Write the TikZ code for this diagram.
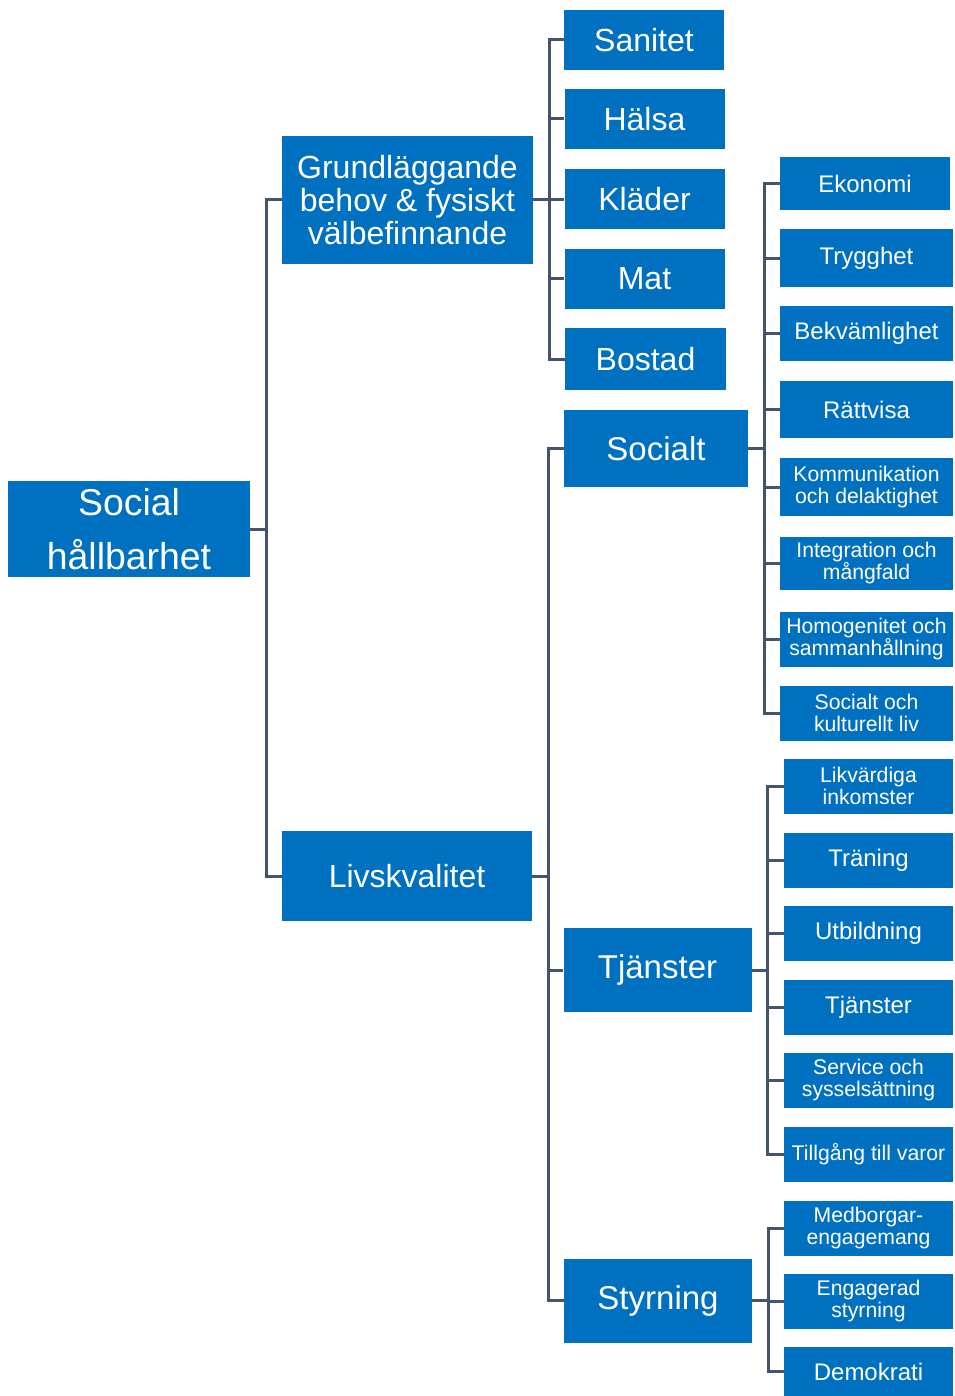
\documentclass[tikz,border=0pt]{standalone}
\usepackage{fontspec}
\setmainfont{Liberation Sans}
\definecolor{boxblue}{HTML}{0070C0}
\definecolor{linegray}{HTML}{44546A}
\begin{document}
\begin{tikzpicture}[x=0.5pt, y=-0.5pt]
\tikzstyle{every node}=[shape=rectangle, fill=boxblue, text=white, inner sep=0pt, align=center]
\tikzstyle{top}=[minimum width=80pt, minimum height=30pt, font=\fontsize{16}{18}\selectfont]
\tikzstyle{mid}=[minimum width=94pt, minimum height=42pt, font=\fontsize{16.5}{18}\selectfont]
\tikzstyle{leaf}=[minimum width=86.5pt, minimum height=27.5pt, font=\fontsize{12}{12}\selectfont]
\tikzstyle{leaftwo}=[minimum width=86.5pt, minimum height=27.5pt, font=\fontsize{10.6}{11}\selectfont]
\tikzstyle{link}=[draw=linegray, line width=1.5pt]
\useasboundingbox (0,0) rectangle (954,1396);
\node[minimum width=121pt, minimum height=48pt, font=\fontsize{18.7}{27}\selectfont] (SH) at (129, 529) {Social\\hållbarhet};
\node[minimum width=125.5pt, minimum height=64pt, font=\fontsize{16}{16.5}\selectfont] (GB) at (407.5, 200) {Grundläggande\\behov \& fysiskt\\välbefinnande};
\node[minimum width=125pt, minimum height=45pt, font=\fontsize{16}{16.5}\selectfont] (LK) at (407, 876) {Livskvalitet};
\node[top] (San) at (644, 40) {Sanitet};
\node[top] (Hal) at (644.5, 119) {Hälsa};
\node[top] (Kla) at (644.5, 199.5) {Kläder};
\node[top] (Mat) at (644.5, 278.5) {Mat};
\node[top, minimum width=80.5pt, minimum height=31pt] (Bos) at (645.5, 359) {Bostad};
\node[mid, minimum width=92pt, minimum height=38.5pt] (Soc) at (656, 448.5) {Socialt};
\node[mid] (Tja) at (657.5, 970) {Tjänster};
\node[mid] (Sty) at (658, 1300.5) {Styrning};
\node[leaf, minimum width=85pt, minimum height=26.5pt] (Eko) at (865, 183.5) {Ekonomi};
\node[leaf, minimum height=29pt] (Try) at (866.5, 258) {Trygghet};
\node[leaf] (Bek) at (866.5, 333.5) {Bekvämlighet};
\node[leaf, minimum height=28.5pt] (Rat) at (866.5, 409.5) {Rättvisa};
\node[leaftwo, minimum height=29pt] (Kom) at (866.5, 487) {Kommunikation\\och delaktighet};
\node[leaftwo, minimum height=26.5pt] (Int) at (866.5, 563.5) {Integration och\\mångfald};
\node[leaftwo] (Hom) at (866.5, 639) {Homogenitet och\\sammanhållning};
\node[leaftwo] (Kul) at (866.5, 713) {Socialt och\\kulturellt liv};
\node[leaftwo, minimum width=84.5pt] (Lik) at (868.5, 786) {Likvärdiga\\inkomster};
\node[leaf, minimum width=84.5pt] (Tra) at (868.5, 860) {Träning};
\node[leaf, minimum width=84.5pt] (Utb) at (868.5, 933) {Utbildning};
\node[leaf, minimum width=84.5pt] (Tjs) at (868.5, 1007) {Tjänster};
\node[leaftwo, minimum width=84.5pt] (Ser) at (868.5, 1080.5) {Service och\\sysselsättning};
\node[leaftwo, minimum width=84.5pt] (Til) at (868.5, 1154) {Tillgång till varor};
\node[leaftwo, minimum width=84.5pt] (Med) at (868.5, 1228) {Medborgar-\\engagemang};
\node[leaftwo, minimum width=84.5pt] (Eng) at (868.5, 1301) {Engagerad\\styrning};
\node[leaf, minimum width=84.5pt, minimum height=24.5pt] (Dem) at (868.5, 1371.5) {Demokrati};
% level 1
\draw[link] (SH.east) -- +(16,0) |- (GB.west);
\draw[link] (SH.east) -- +(16,0) |- (LK.west);
% basic needs
\foreach \n in {San, Hal, Kla, Mat, Bos}
  \draw[link] (GB.east) -- +(16,0) |- (\n.west);
% quality of life
\foreach \n in {Soc, Tja, Sty}
  \draw[link] (LK.east) -- +(16,0) |- (\n.west);
\foreach \n in {Eko, Try, Bek, Rat, Kom, Int, Hom, Kul}
  \draw[link] (Soc.east) -- +(16,0) |- (\n.west);
\foreach \n in {Lik, Tra, Utb, Tjs, Ser, Til}
  \draw[link] (Tja.east) -- +(16,0) |- (\n.west);
\foreach \n in {Med, Eng, Dem}
  \draw[link] (Sty.east) -- +(16,0) |- (\n.west);
\end{tikzpicture}
\end{document}
